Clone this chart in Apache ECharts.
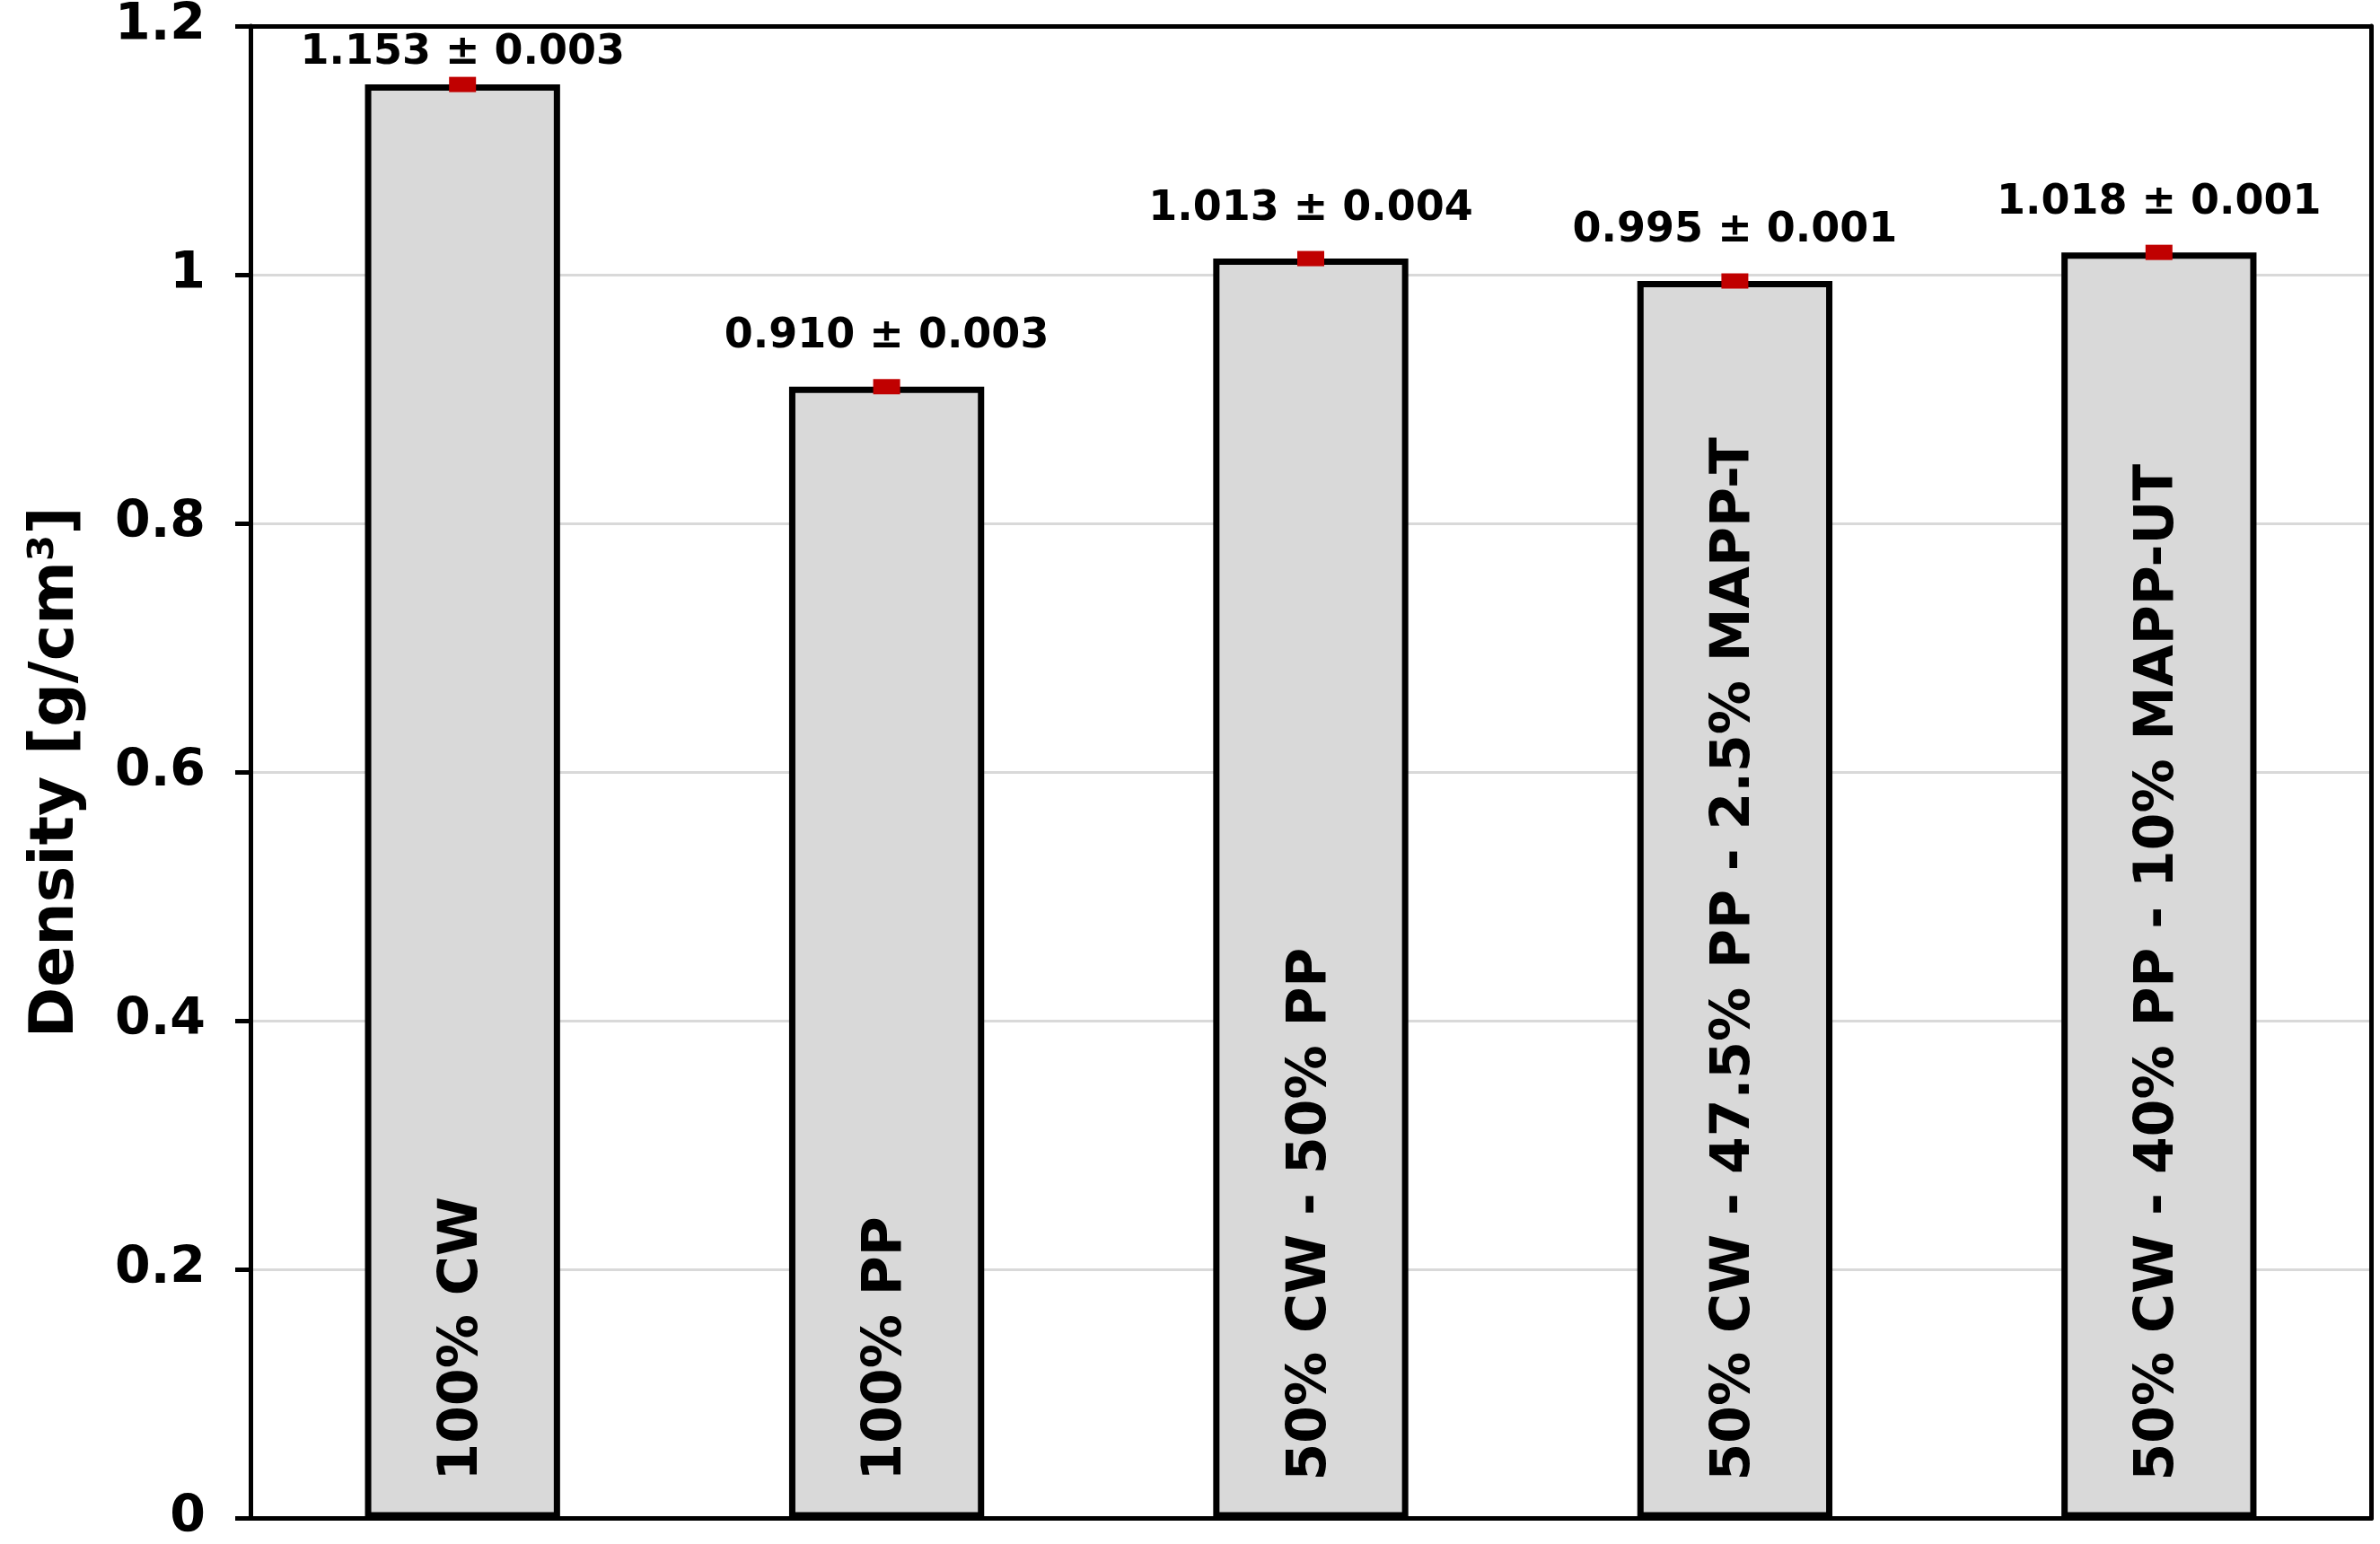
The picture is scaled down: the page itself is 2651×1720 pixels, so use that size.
<!DOCTYPE html>
<html>
<head>
<meta charset="utf-8">
<title>Density</title>
<script src="https://cdn.jsdelivr.net/npm/echarts@6/dist/echarts.min.js"></script>
<style>
  html, body { margin: 0; padding: 0; background: #fff; }
  #main { width: 2651px; height: 1720px; }
</style>
</head>
<body>
<div id="main"></div>
<script>
// 样品名称
var categories = ['100% CW', '100% PP', '50% CW - 50% PP', '50% CW - 47.5% PP - 2.5% MAPP-T', '50% CW - 40% PP - 10% MAPP-UT'];
// 密度 g/cm3
var density = [1.153, 0.910, 1.013, 0.995, 1.018];
// 标准差
var stdev = [0.003, 0.003, 0.004, 0.001, 0.001];
var yTicks = [0, 0.2, 0.4, 0.6, 0.8, 1, 1.2];

var font = 'DejaVu Sans';

var myChart = echarts.init(document.getElementById('main'));

// 误差点 + 数值标签
var markerData = [];
for (var i = 0; i < density.length; i++) {
    markerData.push({
        value: [i, density[i]],
        label: { distance: i == 0 ? 4 : 24 }
    });
}

var frameLine = { show: true, onZero: false, lineStyle: { color: '#000', width: 5 } };

var option = {
    backgroundColor: '#fff',
    animation: false,
    grid: {
        left: 279,
        right: 10,
        top: 29,
        bottom: 28
    },
    xAxis: [
        {
            type: 'category',
            data: categories,
            axisLine: frameLine,
            axisTick: { show: false },
            axisLabel: { show: false }
        },
        {
            // 上边框
            type: 'category',
            position: 'top',
            data: categories,
            axisLine: frameLine,
            axisTick: { show: false },
            axisLabel: { show: false }
        }
    ],
    yAxis: [
        {
            type: 'value',
            min: yTicks[0],
            max: yTicks[yTicks.length - 1],
            interval: 0.2,
            name: 'Density [g/cm³]',
            nameLocation: 'middle',
            nameGap: 182,
            nameTextStyle: {
                fontFamily: font,
                fontWeight: 'bold',
                fontSize: 68,
                color: '#000'
            },
            axisLine: frameLine,
            axisTick: { show: true, length: 17, lineStyle: { color: '#000', width: 5 } },
            axisLabel: {
                margin: 50,
                fontFamily: font,
                fontWeight: 'bold',
                fontSize: 57,
                color: '#000'
            },
            splitLine: { lineStyle: { color: '#d9d9d9', width: 3 } }
        },
        {
            // 右边框
            type: 'value',
            position: 'right',
            min: yTicks[0],
            max: yTicks[yTicks.length - 1],
            interval: 0.2,
            axisLine: frameLine,
            axisTick: { show: false },
            axisLabel: { show: false },
            splitLine: { show: false }
        }
    ],
    series: [
        {
            name: 'Density',
            type: 'bar',
            data: density,
            barWidth: '46%',
            itemStyle: {
                color: '#d9d9d9',
                borderColor: '#000',
                borderWidth: 7
            },
            label: {
                show: true,
                position: 'insideBottom',
                rotate: 90,
                align: 'left',
                verticalAlign: 'middle',
                distance: 42,
                fontFamily: font,
                fontWeight: 'bold',
                fontSize: 60,
                color: '#000',
                formatter: function (p) { return categories[p.dataIndex]; }
            },
            z: 2
        },
        {
            name: 'SD',
            type: 'scatter',
            data: markerData,
            symbol: 'rect',
            symbolSize: [30, 17],
            itemStyle: { color: '#c00000', opacity: 1 },
            label: {
                show: true,
                position: 'top',
                fontFamily: font,
                fontWeight: 'bold',
                fontSize: 46,
                color: '#000',
                formatter: function (p) {
                    var i = p.dataIndex;
                    return density[i].toFixed(3) + ' ± ' + stdev[i].toFixed(3);
                }
            },
            z: 3
        }
    ]
};

myChart.setOption(option);
</script>
</body>
</html>
